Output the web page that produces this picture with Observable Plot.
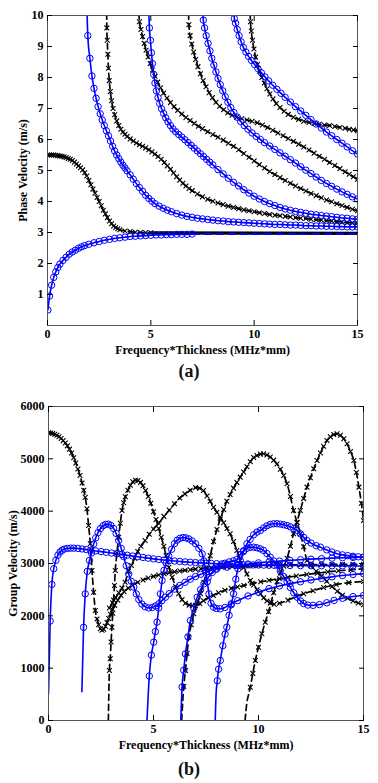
<!DOCTYPE html>
<html><head><meta charset="utf-8">
<script src="https://cdn.jsdelivr.net/npm/d3@7"></script>
<script src="https://cdn.jsdelivr.net/npm/@observablehq/plot@0.6"></script>
<style>
body{margin:0;background:#fff;}
#wrap{position:relative;width:378px;height:783px;overflow:hidden;}
#wrap svg{position:absolute;left:0;}
#wrap svg text{font-family:"Liberation Serif","Times New Roman",serif !important;font-weight:bold;}
.cap{position:absolute;left:0;width:378px;text-align:center;font:bold 18px "Liberation Serif",serif;color:#111;}
</style></head><body><div id="wrap"></div>
<script>
// ---------- shared axis ticks ----------
const xTicks = [0, 5, 10, 15];
const phaseTicks = [1, 2, 3, 4, 5, 6, 7, 8, 9, 10];
const groupTicks = [0, 1000, 2000, 3000, 4000, 5000, 6000];
const xLabel = "Frequency*Thickness (MHz*mm)";
const phaseLabel = "Phase Velocity (m/s)";
const groupLabel = "Group Velocity (m/s)";

// ---------- (a) phase velocity, blue (circles) ----------
const pA0 = [[0.02,0.5],[0.1,0.95],[0.2,1.3],[0.3,1.55],[0.4,1.73],[0.5,1.87],[0.6,1.98],[0.75,2.1],[0.9,2.2],[1.05,2.3],[1.2,2.37],[1.35,2.43],[1.5,2.49],[1.65,2.54],[1.8,2.58],[2.0,2.62],[2.25,2.67],[2.5,2.71],[2.75,2.75],[3.0,2.78],[3.25,2.81],[3.5,2.83],[3.75,2.85],[4.0,2.87],[4.25,2.88],[4.5,2.89],[4.75,2.9],[5.0,2.91],[5.25,2.92],[5.5,2.92],[5.75,2.93],[6.0,2.93],[6.25,2.94],[6.5,2.94],[6.75,2.94],[7.0,2.95]];
const pA0Tail = [[7.0,2.95],[15,2.95]];
const pA1 = [[1.9,10.4],[1.95,9.35],[2.05,8.62],[2.15,8.05],[2.25,7.65],[2.35,7.33],[2.45,7.06],[2.55,6.83],[2.65,6.63],[2.75,6.45],[2.85,6.28],[2.95,6.12],[3.05,5.95],[3.15,5.78],[3.25,5.63],[3.35,5.5],[3.45,5.38],[3.55,5.27],[3.65,5.17],[3.75,5.08],[3.85,4.99],[4.0,4.86],[4.15,4.72],[4.3,4.58],[4.45,4.45],[4.6,4.33],[4.75,4.2],[4.9,4.1],[5.05,4.01],[5.2,3.93],[5.4,3.85],[5.6,3.78],[5.8,3.72],[6.0,3.67],[6.25,3.61],[6.5,3.56],[6.75,3.52],[7.0,3.49],[7.25,3.46],[7.5,3.44],[7.75,3.42],[8.0,3.4],[8.25,3.38],[8.5,3.37],[8.75,3.35],[9.0,3.34],[9.25,3.33],[9.5,3.32],[9.75,3.31],[10,3.3],[10.25,3.29],[10.5,3.28],[10.75,3.27],[11,3.26],[11.25,3.26],[11.5,3.25],[11.75,3.24],[12,3.24],[12.25,3.23],[12.5,3.22],[12.75,3.22],[13,3.21],[13.25,3.21],[13.5,3.2],[13.75,3.2],[14,3.19],[14.25,3.19],[14.5,3.18],[14.75,3.18],[15,3.18]];
const pA2 = [[4.89,10.4],[4.93,9.6],[4.98,9.2],[5.03,8.8],[5.08,8.45],[5.14,8.1],[5.2,7.82],[5.27,7.57],[5.35,7.35],[5.43,7.16],[5.52,6.99],[5.62,6.84],[5.72,6.7],[5.83,6.57],[5.95,6.45],[6.07,6.34],[6.2,6.25],[6.35,6.16],[6.5,6.08],[6.65,5.99],[6.8,5.9],[6.95,5.81],[7.1,5.72],[7.25,5.63],[7.4,5.54],[7.55,5.45],[7.7,5.36],[7.85,5.27],[8.0,5.18],[8.25,5.03],[8.5,4.89],[8.75,4.75],[9.0,4.62],[9.25,4.5],[9.5,4.38],[9.75,4.27],[10,4.17],[10.25,4.08],[10.5,4.0],[10.75,3.93],[11,3.87],[11.25,3.81],[11.5,3.76],[11.75,3.72],[12,3.68],[12.25,3.65],[12.5,3.62],[12.75,3.59],[13,3.57],[13.25,3.55],[13.5,3.53],[13.75,3.51],[14,3.49],[14.25,3.47],[14.5,3.46],[14.75,3.44],[15,3.43]];
const pA3 = [[7.5,10.4],[7.54,9.85],[7.6,9.6],[7.68,9.35],[7.77,9.1],[7.86,8.86],[7.95,8.62],[8.05,8.4],[8.15,8.18],[8.25,7.97],[8.36,7.77],[8.48,7.57],[8.6,7.38],[8.73,7.2],[8.87,7.03],[9.02,6.87],[9.18,6.72],[9.35,6.58],[9.52,6.45],[9.7,6.33],[9.9,6.21],[10.1,6.1],[10.3,6.0],[10.5,5.9],[10.75,5.79],[11,5.68],[11.25,5.57],[11.5,5.46],[11.75,5.35],[12,5.24],[12.25,5.12],[12.5,5.01],[12.75,4.9],[13,4.79],[13.25,4.68],[13.5,4.58],[13.75,4.49],[14,4.4],[14.25,4.31],[14.5,4.23],[14.75,4.15],[15,4.08]];
const pA4 = [[9.0,10.4],[9.04,9.9],[9.1,9.75],[9.18,9.55],[9.27,9.35],[9.37,9.15],[9.48,8.97],[9.6,8.82],[9.73,8.68],[9.87,8.55],[10.02,8.42],[10.18,8.29],[10.35,8.15],[10.52,8.02],[10.7,7.89],[10.9,7.75],[11.1,7.62],[11.3,7.49],[11.5,7.36],[11.75,7.21],[12,7.06],[12.25,6.92],[12.5,6.78],[12.75,6.64],[13,6.5],[13.25,6.37],[13.5,6.24],[13.75,6.12],[14,6.0],[14.25,5.88],[14.5,5.76],[14.75,5.64],[15,5.53]];

// ---------- (a) phase velocity, black (crosses) ----------
const pS0 = [[0,5.5],[0.1,5.5],[0.2,5.5],[0.3,5.5],[0.4,5.49],[0.5,5.48],[0.6,5.47],[0.7,5.46],[0.8,5.44],[0.9,5.42],[1.0,5.39],[1.1,5.36],[1.2,5.32],[1.3,5.27],[1.4,5.21],[1.5,5.15],[1.6,5.09],[1.7,5.02],[1.8,4.93],[1.9,4.82],[2.0,4.68],[2.1,4.54],[2.2,4.4],[2.3,4.27],[2.4,4.13],[2.5,4.0],[2.6,3.86],[2.7,3.72],[2.8,3.6],[2.9,3.48],[3.0,3.37],[3.1,3.28],[3.2,3.21],[3.3,3.16],[3.4,3.12],[3.5,3.09],[3.75,3.05],[4.0,3.03],[4.25,3.01],[4.5,3.0],[4.75,2.99],[5.0,2.99]];
const pS0Tail = [[5.0,2.99],[15,2.97]];
const pS1 = [[2.86,10.4],[2.87,9.6],[2.89,9.2],[2.92,8.75],[2.95,8.3],[2.99,7.9],[3.04,7.55],[3.1,7.25],[3.17,7.0],[3.25,6.8],[3.35,6.6],[3.45,6.45],[3.55,6.33],[3.65,6.24],[3.75,6.17],[3.85,6.1],[4.0,6.02],[4.15,5.95],[4.3,5.89],[4.45,5.83],[4.6,5.78],[4.75,5.73],[4.9,5.67],[5.05,5.6],[5.2,5.53],[5.35,5.45],[5.5,5.36],[5.65,5.26],[5.8,5.15],[5.95,5.04],[6.1,4.92],[6.25,4.8],[6.4,4.69],[6.55,4.59],[6.7,4.5],[6.85,4.42],[7.0,4.35],[7.25,4.24],[7.5,4.15],[7.75,4.07],[8.0,4.01],[8.25,3.95],[8.5,3.9],[8.75,3.85],[9.0,3.81],[9.25,3.77],[9.5,3.73],[9.75,3.7],[10,3.67],[10.25,3.64],[10.5,3.61],[10.75,3.58],[11,3.56],[11.25,3.54],[11.5,3.52],[11.75,3.5],[12,3.48],[12.25,3.46],[12.5,3.45],[12.75,3.43],[13,3.41],[13.25,3.4],[13.5,3.38],[13.75,3.37],[14,3.35],[14.25,3.34],[14.5,3.32],[14.75,3.31],[15,3.3]];
const pS2 = [[4.4,10.4],[4.45,9.8],[4.52,9.55],[4.6,9.32],[4.68,9.1],[4.77,8.88],[4.87,8.66],[4.97,8.45],[5.08,8.24],[5.2,8.04],[5.33,7.85],[5.47,7.67],[5.62,7.5],[5.78,7.34],[5.95,7.19],[6.12,7.06],[6.3,6.94],[6.5,6.82],[6.7,6.71],[6.9,6.61],[7.1,6.52],[7.3,6.43],[7.5,6.35],[7.75,6.25],[8.0,6.16],[8.25,6.07],[8.5,5.98],[8.75,5.88],[9.0,5.78],[9.25,5.67],[9.5,5.55],[9.75,5.43],[10,5.31],[10.25,5.19],[10.5,5.08],[10.75,4.97],[11,4.87],[11.25,4.77],[11.5,4.68],[11.75,4.59],[12,4.5],[12.25,4.42],[12.5,4.34],[12.75,4.26],[13,4.19],[13.25,4.12],[13.5,4.05],[13.75,3.99],[14,3.93],[14.25,3.87],[14.5,3.81],[14.75,3.75],[15,3.7]];
const pS3 = [[6.82,10.4],[6.84,9.7],[6.9,9.35],[6.98,9.08],[7.07,8.82],[7.17,8.58],[7.28,8.35],[7.4,8.12],[7.53,7.9],[7.67,7.7],[7.82,7.51],[7.98,7.35],[8.15,7.2],[8.33,7.07],[8.52,6.96],[8.72,6.86],[8.93,6.78],[9.15,6.72],[9.4,6.67],[9.65,6.63],[9.9,6.59],[10.15,6.54],[10.4,6.47],[10.65,6.39],[10.9,6.3],[11.15,6.21],[11.4,6.12],[11.65,6.03],[11.9,5.94],[12.15,5.85],[12.4,5.76],[12.65,5.66],[12.9,5.56],[13.15,5.46],[13.4,5.36],[13.65,5.26],[13.9,5.16],[14.15,5.06],[14.4,4.96],[14.6,4.88],[14.8,4.8],[15,4.72]];
const pS4 = [[9.8,10.4],[9.82,9.8],[9.86,9.5],[9.92,9.2],[9.99,8.92],[10.07,8.66],[10.16,8.42],[10.26,8.2],[10.37,8.0],[10.49,7.82],[10.62,7.64],[10.76,7.47],[10.91,7.31],[11.07,7.16],[11.25,7.03],[11.45,6.91],[11.65,6.81],[11.9,6.72],[12.15,6.65],[12.4,6.59],[12.65,6.55],[12.9,6.52],[13.15,6.49],[13.4,6.47],[13.65,6.45],[13.9,6.42],[14.15,6.39],[14.4,6.36],[14.6,6.33],[14.8,6.31],[15,6.28]];

// ---------- (b) group velocity, blue (circles) ----------
const gA0 = [[0,510],[0.08,1900],[0.16,2600],[0.25,2900],[0.35,3060],[0.45,3160],[0.55,3220],[0.65,3255],[0.75,3275],[0.9,3288],[1.05,3293],[1.2,3293],[1.4,3288],[1.6,3278],[1.8,3266],[2.0,3254],[2.25,3240],[2.5,3227],[2.75,3214],[3.0,3200],[3.25,3186],[3.5,3172],[3.75,3158],[4.0,3144],[4.25,3130],[4.5,3116],[4.75,3102],[5.0,3089],[5.25,3077],[5.5,3066],[5.75,3056],[6.0,3047],[6.25,3039],[6.5,3031],[6.75,3024],[7.0,3018],[7.25,3012],[7.5,3006],[7.75,3001],[8.0,2996],[8.25,2992],[8.5,2988],[8.75,2984],[9.0,2981],[9.25,2978],[9.5,2975],[9.75,2973],[10,2971],[10.25,2969],[10.5,2967],[10.75,2965],[11,2964],[11.5,2962],[12,2960],[12.5,2958],[13,2957],[13.5,2956],[14,2955],[14.5,2954],[15,2953]];
const gA1 = [[1.59,550],[1.67,1780],[1.75,2420],[1.85,2850],[1.95,3060],[2.05,3200],[2.15,3370],[2.25,3490],[2.36,3590],[2.47,3665],[2.6,3720],[2.72,3748],[2.85,3752],[2.97,3728],[3.1,3670],[3.22,3575],[3.34,3440],[3.46,3290],[3.58,3130],[3.7,2960],[3.82,2800],[3.94,2660],[4.06,2547],[4.18,2420],[4.3,2310],[4.45,2225],[4.6,2175],[4.77,2150],[4.95,2160],[5.1,2190],[5.25,2230],[5.4,2290],[5.57,2356],[5.75,2425],[6.0,2510],[6.25,2580],[6.5,2640],[6.75,2700],[7.0,2750],[7.25,2795],[7.5,2835],[7.75,2865],[8.0,2890],[8.5,2930],[9.0,2962],[9.5,2990],[10,3012],[10.5,3030],[11,3046],[11.5,3060],[12,3072],[12.5,3083],[13,3093],[13.5,3102],[14,3110],[14.5,3116],[15,3121]];
const gA2 = [[4.69,0],[4.8,850],[4.9,1250],[5.01,1497],[5.09,1700],[5.17,1880],[5.25,2150],[5.33,2421],[5.41,2675],[5.5,2870],[5.6,3010],[5.73,3140],[5.86,3270],[6.0,3380],[6.13,3445],[6.26,3482],[6.4,3496],[6.54,3490],[6.68,3470],[6.84,3430],[7.0,3377],[7.16,3290],[7.32,3185],[7.4,3050],[7.48,2880],[7.56,2650],[7.64,2420],[7.74,2240],[7.86,2165],[8.0,2140],[8.18,2134],[8.4,2160],[8.7,2230],[9.0,2290],[9.5,2380],[10,2450],[10.5,2520],[11,2570],[11.5,2615],[12,2650],[12.5,2685],[13,2715],[13.5,2745],[14,2770],[14.5,2790],[15,2803]];
const gA3 = [[6.3,0],[6.36,640],[6.44,960],[6.52,1274],[6.64,1600],[6.76,1911],[6.92,2150],[7.08,2356],[7.24,2500],[7.4,2612],[7.6,2730],[7.8,2830],[8.0,2910],[8.2,2965],[8.4,3005],[8.6,3030],[8.8,3050],[8.97,3075],[9.13,3170],[9.29,3245],[9.45,3290],[9.61,3308],[9.77,3312],[9.93,3300],[10.09,3280],[10.24,3249],[10.4,3190],[10.56,3121],[10.72,3050],[10.88,2970],[11.04,2860],[11.2,2750],[11.36,2650],[11.52,2540],[11.68,2440],[11.84,2356],[12.0,2285],[12.15,2235],[12.35,2205],[12.6,2200],[12.9,2215],[13.25,2250],[13.6,2295],[14,2335],[14.5,2368],[15,2389]];
const gA4 = [[7.94,0],[7.98,500],[8.04,760],[8.1,980],[8.18,1147],[8.3,1430],[8.41,1650],[8.49,1783],[8.6,2010],[8.7,2210],[8.81,2421],[8.92,2700],[9.02,2900],[9.13,3058],[9.29,3230],[9.45,3377],[9.6,3460],[9.77,3550],[9.93,3600],[10.09,3631],[10.25,3680],[10.4,3720],[10.56,3748],[10.72,3759],[10.88,3760],[11.04,3752],[11.2,3740],[11.36,3726],[11.52,3700],[11.68,3668],[11.83,3631],[12.0,3565],[12.15,3500],[12.31,3440],[12.5,3390],[12.75,3340],[12.95,3312],[13.25,3260],[13.5,3220],[13.74,3185],[14,3165],[14.25,3150],[14.5,3138],[14.75,3128],[15,3121]];

// ---------- (b) group velocity, black (crosses) ----------
const gS0 = [[0,5500],[0.1,5495],[0.2,5485],[0.3,5470],[0.4,5450],[0.5,5422],[0.6,5388],[0.7,5348],[0.8,5302],[0.9,5248],[1.0,5185],[1.1,5110],[1.2,5020],[1.3,4920],[1.4,4805],[1.5,4680],[1.6,4540],[1.68,4400],[1.75,4267],[1.83,4045],[1.91,3726],[1.99,3377],[2.07,2866],[2.15,2450],[2.23,2102],[2.31,1940],[2.39,1830],[2.47,1755],[2.55,1725],[2.63,1745],[2.71,1800],[2.79,1870],[2.87,1950],[2.95,2030],[3.05,2120],[3.15,2200],[3.3,2300],[3.45,2390],[3.6,2460],[3.8,2530],[4.0,2585],[4.25,2640],[4.5,2685],[4.75,2722],[5.0,2754],[5.25,2782],[5.5,2805],[5.75,2825],[6.0,2842],[6.25,2857],[6.5,2870],[6.75,2882],[7.0,2892],[7.25,2901],[7.5,2909],[7.75,2917],[8.0,2924],[8.25,2930],[8.5,2936],[8.75,2941],[9.0,2946],[9.25,2950],[9.5,2954],[9.75,2958],[10,2961],[10.5,2966],[11,2970],[11.5,2973],[12,2976],[12.5,2978],[13,2980],[13.5,2982],[14,2983],[14.5,2984],[15,2985]];
const gS1 = [[2.85,0],[2.9,955],[2.94,1179],[2.98,1500],[3.02,1783],[3.06,2050],[3.1,2300],[3.14,2580],[3.18,2866],[3.26,3200],[3.34,3503],[3.42,3770],[3.5,4013],[3.58,4160],[3.66,4275],[3.78,4400],[3.9,4495],[4.02,4560],[4.14,4590],[4.26,4585],[4.38,4550],[4.5,4485],[4.62,4395],[4.75,4280],[4.87,4150],[5.0,3990],[5.12,3840],[5.25,3670],[5.37,3500],[5.49,3330],[5.6,3150],[5.73,2929],[5.89,2738],[6.05,2560],[6.2,2421],[6.36,2310],[6.52,2240],[6.7,2205],[6.85,2195],[7.0,2198],[7.2,2235],[7.38,2290],[7.6,2340],[7.85,2390],[8.1,2440],[8.4,2490],[8.7,2525],[9.0,2550],[9.3,2580],[9.7,2620],[10.1,2650],[10.5,2680],[11,2710],[11.4,2738],[11.8,2760],[12.3,2790],[12.8,2815],[13.3,2840],[13.8,2860],[14.4,2880],[15,2899]];
const gS2 = [[2.9,2150],[3.05,2250],[3.2,2350],[3.35,2440],[3.5,2530],[3.65,2640],[3.8,2850],[3.95,2960],[4.1,3100],[4.25,3230],[4.4,3330],[4.6,3440],[4.8,3560],[5.0,3660],[5.25,3770],[5.5,3900],[5.75,4020],[6.0,4140],[6.25,4250],[6.5,4330],[6.75,4400],[7.0,4450],[7.2,4440],[7.38,4395],[7.55,4290],[7.7,4190],[7.86,4076],[8.02,3980],[8.18,3885],[8.34,3780],[8.5,3670],[8.65,3567],[8.81,3420],[8.97,3249],[9.13,3058],[9.29,2920],[9.45,2800],[9.61,2675],[9.77,2590],[9.93,2500],[10.09,2421],[10.25,2345],[10.4,2285],[10.56,2240],[10.75,2220],[11.0,2240],[11.4,2300],[11.8,2370],[12.15,2421],[12.6,2480],[13.1,2540],[13.7,2600],[14.3,2635],[15,2655]];
const gS3 = [[6.34,0],[6.44,650],[6.52,955],[6.6,1280],[6.68,1592],[6.8,1830],[6.92,2039],[7.08,2240],[7.24,2421],[7.4,2640],[7.55,2900],[7.7,3150],[7.86,3420],[8.02,3650],[8.18,3850],[8.34,4030],[8.49,4190],[8.65,4320],[8.81,4440],[8.97,4550],[9.13,4650],[9.29,4750],[9.45,4850],[9.61,4945],[9.77,5025],[9.93,5065],[10.09,5090],[10.24,5096],[10.4,5075],[10.56,5035],[10.72,4975],[10.88,4900],[11.04,4800],[11.2,4680],[11.36,4523],[11.52,4280],[11.67,4013],[11.84,3780],[12.0,3567],[12.15,3320],[12.31,3058],[12.5,2960],[12.75,2850],[13.0,2760],[13.25,2660],[13.5,2560],[13.75,2470],[14.0,2395],[14.25,2335],[14.5,2285],[14.75,2245],[15,2210]];
const gS4 = [[9.36,0],[9.45,350],[9.53,500],[9.61,637],[9.73,900],[9.85,1147],[10.0,1401],[10.16,1656],[10.32,1879],[10.48,2080],[10.6,2260],[10.72,2440],[10.88,2650],[11.04,2820],[11.2,2950],[11.36,3100],[11.52,3330],[11.67,3567],[11.83,3790],[11.99,4013],[12.15,4240],[12.31,4459],[12.47,4640],[12.63,4810],[12.79,4968],[12.95,5110],[13.1,5240],[13.26,5351],[13.42,5420],[13.58,5465],[13.74,5478],[13.9,5450],[14.06,5385],[14.22,5287],[14.38,5140],[14.54,4968],[14.66,4740],[14.78,4459],[14.9,4150],[15,3822]];

// ---------- drawing ----------
const BLUE = "#0000ff";
const STYLE = "font-family: 'Liberation Serif', 'Times New Roman', serif; font-size: 12px; font-weight: bold; color: #000; background: #fff;";

function panel(cfg) {
  const X = d => d[0], Y = d => d[1];
  const marks = [];
  const markerOk = d => d[1] >= cfg.markerMin && d[1] <= cfg.yDomain[1];
  for (const c of cfg.black) {
    marks.push(Plot.line(c, {x: X, y: Y, stroke: "#000", strokeWidth: 1.7, strokeDasharray: "6,4", curve: "monotone-x", clip: true}));
  }
  for (const c of cfg.blackTail || []) {
    marks.push(Plot.line(c, {x: X, y: Y, stroke: "#000", strokeWidth: 3.2, clip: true}));
  }
  for (const c of cfg.black) {
    marks.push(Plot.dot(c.filter(markerOk), {x: X, y: Y, symbol: "times", r: 2.3, stroke: "#000", strokeWidth: 1.1, clip: true}));
  }
  for (const c of cfg.blue) {
    marks.push(Plot.line(c, {x: X, y: Y, stroke: BLUE, strokeWidth: 1.6, curve: "monotone-x", clip: true}));
    marks.push(Plot.dot(c.filter(markerOk), {x: X, y: Y, symbol: "circle", r: 3.2, stroke: BLUE, strokeWidth: 1, fill: "none", clip: true}));
  }
  for (const c of cfg.blueTail || []) {
    marks.push(Plot.line(c, {x: X, y: Y, stroke: BLUE, strokeWidth: 2, strokeDasharray: "7,5", clip: true}));
  }
  const fmt = d => String(d);
  marks.push(Plot.frame({stroke: "#555", strokeWidth: 1}));
  marks.push(Plot.axisX(xTicks, {anchor: "bottom", tickSize: -5, tickPadding: 9, tickFormat: fmt, fontSize: 12, label: xLabel, labelAnchor: "center", labelArrow: "none", labelOffset: cfg.xLabelOffset}));
  marks.push(Plot.axisX(xTicks, {anchor: "top", tickSize: -5, tickFormat: () => "", label: null}));
  marks.push(Plot.axisY(cfg.yTicks, {anchor: "left", tickSize: -5, tickPadding: 9, tickFormat: fmt, fontSize: 12, label: cfg.yLabel, labelAnchor: "center", labelArrow: "none", labelOffset: cfg.yLabelOffset}));
  marks.push(Plot.axisY(cfg.yTicks, {anchor: "right", tickSize: -5, tickFormat: () => "", label: null}));
  return Plot.plot({
    width: 378, height: cfg.height,
    marginLeft: cfg.ml, marginRight: cfg.mr, marginTop: cfg.mt, marginBottom: cfg.mb,
    x: {domain: [0, 15]},
    y: {domain: cfg.yDomain},
    style: STYLE,
    marks
  });
}

const wrap = document.getElementById("wrap");

const svgA = panel({
  height: 360, ml: 47, mr: 21, mt: 15, mb: 35,
  yDomain: [0, 10], yTicks: phaseTicks, yLabel: phaseLabel,
  xLabelOffset: 28, yLabelOffset: 29, markerMin: 0,
  blue: [pA0, pA1, pA2, pA3, pA4], black: [pS0, pS1, pS2, pS3, pS4],
  blueTail: [pA0Tail], blackTail: [pS0Tail]
});
svgA.style.top = "0px";
wrap.appendChild(svgA);

const capA = document.createElement("div");
capA.className = "cap"; capA.style.top = "361px"; capA.textContent = "(a)";
wrap.appendChild(capA);

const svgB = panel({
  height: 365, ml: 48, mr: 15, mt: 16, mb: 35,
  yDomain: [0, 6000], yTicks: groupTicks, yLabel: groupLabel,
  xLabelOffset: 28, yLabelOffset: 40, markerMin: 600,
  blue: [gA0, gA1, gA2, gA3, gA4], black: [gS0, gS1, gS2, gS3, gS4]
});
svgB.style.top = "390px";
wrap.appendChild(svgB);

const capB = document.createElement("div");
capB.className = "cap"; capB.style.top = "759px"; capB.textContent = "(b)";
wrap.appendChild(capB);
</script>
</body></html>
